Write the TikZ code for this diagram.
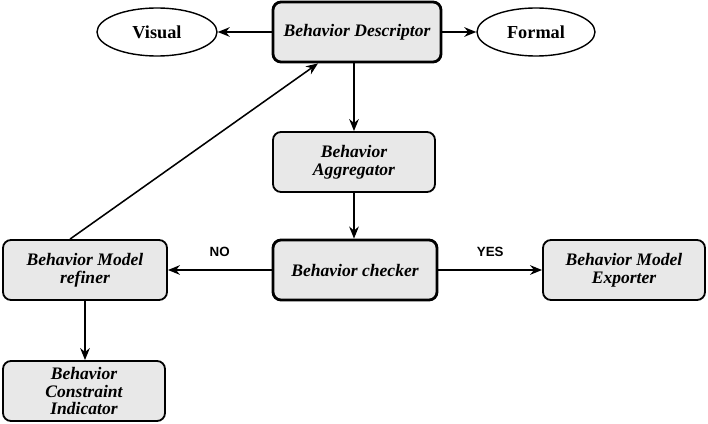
\documentclass[tikz,border=0pt]{standalone}
\usepackage{fontspec}
\setmainfont{Liberation Serif}
\setsansfont{Liberation Sans}
\usepackage{xcolor}
\usetikzlibrary{arrows.meta, positioning, shapes.geometric}

\definecolor{boxgray}{HTML}{E8E8E8}

\begin{document}
\begin{tikzpicture}[
    blockbox/.style={rectangle, rounded corners=0.2cm, draw, line width=1.3pt, fill=boxgray, minimum height=1.5cm, minimum width=4.1cm, align=center, font=\fontsize{12.5}{12.5}\selectfont\bfseries\itshape},
    mainbox/.style={blockbox, line width=2pt},
    viewoval/.style={ellipse, draw, line width=1pt, minimum height=1.2cm, minimum width=3cm, font=\fontsize{13}{13}\selectfont\bfseries},
    flowarrow/.style={-{Stealth[length=3mm, width=2.4mm]}, line width=1.1pt},
    decision/.style={font=\sffamily\bfseries\fontsize{9.5}{11}\selectfont}]
    \useasboundingbox (0,0) rectangle (17.7,-10.6);
    \node[mainbox, minimum width=4.2cm] (desc) at (8.925,-0.8) {Behavior Descriptor};
    \node[viewoval] (visual) at (3.925,-0.8) {Visual};
    \node[viewoval, minimum width=2.95cm] (formal) at (13.4,-0.8) {Formal};
    \node[blockbox, minimum width=4.05cm] (aggr) at (8.85,-4.05) {Behavior\\Aggregator};
    \node[mainbox] (checker) at (8.875,-6.75) {Behavior checker};
    \node[blockbox] (refiner) at (2.125,-6.75) {Behavior Model\\refiner};
    \node[blockbox, minimum width=4.05cm] (exporter) at (15.6,-6.75) {Behavior Model\\Exporter};
    \node[blockbox, minimum width=4.05cm] (constr) at (2.1,-9.775) {Behavior\\Constraint\\Indicator};
    % descriptor outputs
    \draw[flowarrow] (desc.west) -- (visual.east);
    \draw[flowarrow] (desc.east) -- (formal.west);
    % main flow
    \draw[flowarrow] (desc.south -| aggr.north) -- (aggr.north);
    \draw[flowarrow] (aggr.south) -- (checker.north -| aggr.south);
    \draw[flowarrow] (checker.west) -- (refiner.east) node[midway, above=0.2cm, decision] {NO};
    \draw[flowarrow] (checker.east) -- (exporter.west) node[midway, above=0.2cm, decision] {YES};
    \draw[flowarrow] (refiner.south) -- (constr.north -| refiner.south);
    % feedback loop
    \draw[flowarrow] ([xshift=-0.375cm]refiner.north) -- ([xshift=-0.975cm]desc.south);
\end{tikzpicture}
\end{document}
